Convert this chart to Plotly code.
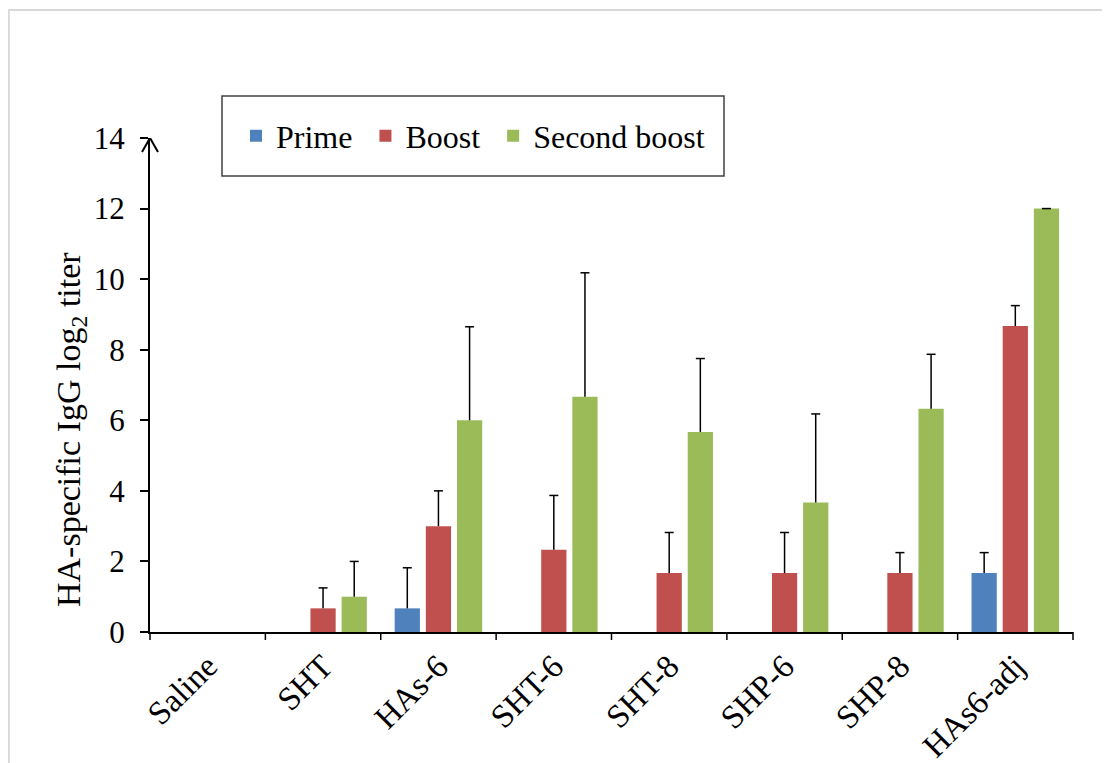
import plotly.graph_objects as go

categories = ["Saline", "SHT", "HAs-6", "SHT-6", "SHT-8", "SHP-6", "SHP-8", "HAs6-adj"]
prime = [0, 0, 0.67, 0, 0, 0, 0, 1.67]
prime_err = [0, 0, 1.15, 0, 0, 0, 0, 0.58]
boost = [0, 0.67, 3.0, 2.33, 1.67, 1.67, 1.67, 8.67]
boost_err = [0, 0.58, 1.0, 1.54, 1.15, 1.15, 0.58, 0.58]
second = [0, 1.0, 6.0, 6.67, 5.67, 3.67, 6.33, 12.0]
second_err = [0, 1.0, 2.65, 3.51, 2.08, 2.51, 1.54, 0.0]
y_ticks = [0, 2, 4, 6, 8, 10, 12, 14]

series_names = ["Prime", "Boost", "Second boost"]
series_vals = [prime, boost, second]
series_errs = [prime_err, boost_err, second_err]
series_colors = ["#4f81bd", "#c0504d", "#9bbb59"]
y_title = "HA-specific IgG log<sub>2</sub> titer"

FONT = "Liberation Serif"
BARGAP = 0.19
BARGROUPGAP = 0.19

# page is offset by the 8px body margin
OFF = 8
W, H = 1110, 763
L, T = 150 - OFF, 138 - OFF
R = W - (1073 - OFF)
B = H - (632 - OFF)
pw, ph = W - L - R, H - T - B

def px_x(px):
    return (px - OFF - L) / pw

def px_y(py):
    return (H - B - (py - OFF)) / ph

idx = list(range(len(categories)))
boundaries = [k - 0.5 for k in range(len(categories) + 1)]
x_range = [-0.5, len(categories) - 0.5]
n = len(series_names)
slot = (1 - BARGAP) / n
cap = 4.5 / (pw / len(categories))

fig = go.Figure()
for i, (name, vals, color) in enumerate(zip(series_names, series_vals, series_colors)):
    label = name + ("\u00a0" if i < n - 1 else "")
    fig.add_trace(go.Bar(x=idx, y=vals, name=label,
                         marker=dict(color=color, line=dict(width=0))))

for i, (vals, errs) in enumerate(zip(series_vals, series_errs)):
    off = (i - (n - 1) / 2) * slot
    ex, ey = [], []
    for k, v, e in zip(idx, vals, errs):
        if v == 0 and e == 0:
            continue
        xc = k + off
        top = v + e
        ex += [xc, xc, None, xc - cap, xc + cap, None]
        ey += [v, top, None, top, top, None]
    fig.add_trace(go.Scatter(x=ex, y=ey, mode="lines", showlegend=False,
                             hoverinfo="skip", line=dict(color="black", width=1.5)))

# outer light border
fig.add_shape(type="rect", xref="paper", yref="paper",
              x0=px_x(8.8), x1=px_x(1125), y0=px_y(10), y1=px_y(780),
              line=dict(color="#d9d9d9", width=2), fillcolor="rgba(0,0,0,0)", layer="below")
# legend frame
fig.add_shape(type="rect", xref="paper", yref="paper",
              x0=px_x(222), x1=px_x(724), y0=px_y(96), y1=px_y(176),
              line=dict(color="#404040", width=1.5), fillcolor="white", layer="below")
# arrowhead on y axis
ah_w = 8 / pw
ah_h = 14 / (ph / 14)
fig.add_shape(type="line", xref="paper", yref="y", x0=0, y0=14, x1=-ah_w, y1=14 - ah_h,
              line=dict(color="black", width=2))
fig.add_shape(type="line", xref="paper", yref="y", x0=0, y0=14, x1=ah_w, y1=14 - ah_h,
              line=dict(color="black", width=2))
# category-boundary tick marks below the x axis (paper coordinates, not clipped)
tick_len = 8 / ph
span = x_range[1] - x_range[0]
for bx in boundaries:
    xp = (bx - x_range[0]) / span
    fig.add_shape(type="line", xref="paper", yref="paper", x0=xp, x1=xp, y0=0, y1=-tick_len,
                  line=dict(color="black", width=1.5))

fig.add_annotation(text=y_title, xref="paper", yref="paper", x=px_x(71), y=px_y(430),
                   xanchor="center", yanchor="middle", textangle=-90, showarrow=False,
                   font=dict(family=FONT, size=34, color="black"))

fig.update_layout(
    width=W, height=H,
    margin=dict(l=L, r=R, t=T, b=B, autoexpand=False),
    paper_bgcolor="white", plot_bgcolor="white",
    barmode="group", bargap=BARGAP, bargroupgap=BARGROUPGAP,
    font=dict(family=FONT, size=30, color="black"),
    showlegend=True,
    legend=dict(orientation="h", x=px_x(236), y=px_y(136), xanchor="left", yanchor="middle",
                borderwidth=0, bgcolor="rgba(0,0,0,0)",
                font=dict(family=FONT, size=32, color="black"),
                itemwidth=30, traceorder="normal"),
    xaxis=dict(type="linear", range=x_range, automargin=False,
               tickvals=idx, ticktext=categories,
               showline=True, linecolor="black", linewidth=1.5,
               ticks="", tickangle=-45,
               tickfont=dict(family=FONT, size=33, color="black"),
               showgrid=False, zeroline=False),
    yaxis=dict(range=[0, 14], tickvals=y_ticks, automargin=False,
               showline=True, linecolor="black", linewidth=2,
               ticks="outside", ticklen=8, tickwidth=1.5, tickcolor="black",
               ticklabelstandoff=9,
               tickfont=dict(family=FONT, size=31, color="black"),
               showgrid=False, zeroline=False),
)

fig.write_html("out.html")
